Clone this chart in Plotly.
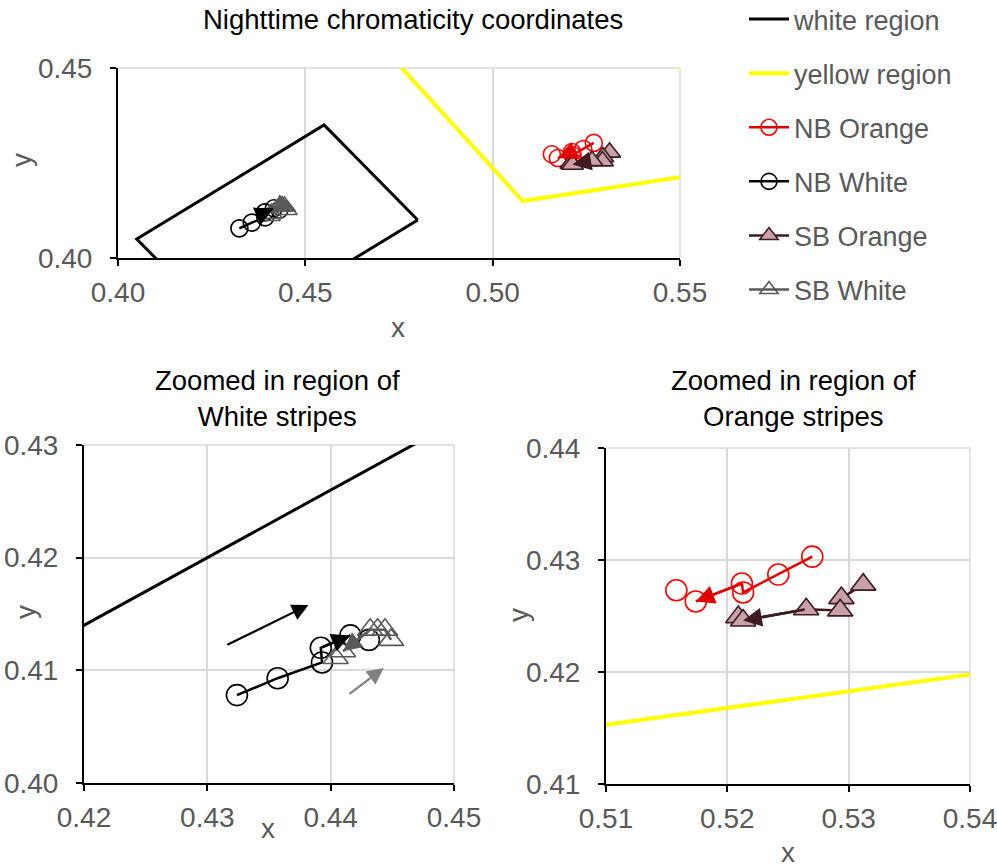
import plotly.graph_objects as go

# ASTM D6628 nighttime chromaticity boxes (closed polygons)
white_box_x = [0.480, 0.430, 0.405, 0.455, 0.480]
white_box_y = [0.410, 0.380, 0.405, 0.435, 0.410]
yellow_box_x = [0.575, 0.508, 0.473, 0.510, 0.575]
yellow_box_y = [0.425, 0.415, 0.453, 0.490, 0.425]

# Measured stripe chromaticity; None separates the stand-alone reading from the path
nb_orange_x = [0.5158, None, 0.5270, 0.5242, 0.5213, 0.5212, 0.5174]
nb_orange_y = [0.4273, None, 0.4303, 0.4287, 0.4271, 0.4279, 0.4263]
nb_white_x = [0.4431, None, 0.4324, 0.4357, 0.4393, 0.4392, 0.4416]
nb_white_y = [0.4127, None, 0.4078, 0.4093, 0.4107, 0.4120, 0.4131]
sb_orange_x = [0.5209, None, 0.5312, 0.5294, 0.5293, 0.5265, 0.5213]
sb_orange_y = [0.4249, None, 0.4278, 0.4266, 0.4255, 0.4256, 0.4246]
sb_white_x = [0.4404, None, 0.4449, 0.4444, 0.4438, 0.4432, 0.4410]
sb_white_y = [0.4111, None, 0.4127, 0.4136, 0.4136, 0.4136, 0.4117]

# Direction-of-change arrows in the white close-up: tail x, tail y, head x, head y
nb_white_trend = [0.4315, 0.4122, 0.4382, 0.4158]
sb_white_trend = [0.4414, 0.4078, 0.4443, 0.4102]

FONT = "Arial, Liberation Sans, sans-serif"
GREY_TXT = "#595959"
GRID = "#D9D9D9"
FS = 28
FS_LEG = 27
FS_TITLE = 27.5
W, H = 997, 867
EPS = 1e-7  # keeps the end tick of each axis inside its range

series = [
    dict(name="NB Orange", x=nb_orange_x, y=nb_orange_y, line="#E00000",
         symbol="circle-open", mcolor="#FF0000", mline=None),
    dict(name="NB White", x=nb_white_x, y=nb_white_y, line="#000000",
         symbol="circle-open", mcolor="#000000", mline=None),
    dict(name="SB Orange", x=sb_orange_x, y=sb_orange_y, line="#3F1A22",
         symbol="triangle-up", mcolor="#C9A2A8", mline="#3F1A22"),
    dict(name="SB White", x=sb_white_x, y=sb_white_y, line="#595959",
         symbol="triangle-up-open", mcolor="#595959", mline=None),
]

# panel: axis suffix, x range, y range, tick step, pixel box (left, top, right, bottom), marker sizes
panels = [
    dict(sfx="", xr=[0.40, 0.55], yr=[0.40, 0.45], dt=0.05,
         box=(118, 68, 680, 258), ms=17, ts=19),
    dict(sfx="2", xr=[0.42, 0.45], yr=[0.40, 0.43], dt=0.01,
         box=(84, 445, 454, 783), ms=21, ts=22),
    dict(sfx="3", xr=[0.51, 0.54], yr=[0.41, 0.44], dt=0.01,
         box=(606, 448, 970, 784), ms=21, ts=22),
]

fig = go.Figure()
annotations = []
shapes = []


def inside(px, py, p):
    return p["xr"][0] <= px <= p["xr"][1] and p["yr"][0] <= py <= p["yr"][1]


for i, p in enumerate(panels):
    xa, ya = "x" + p["sfx"], "y" + p["sfx"]
    first = i == 0
    fig.add_trace(go.Scatter(
        x=white_box_x, y=white_box_y, mode="lines", name="white region",
        line=dict(color="#000000", width=3), xaxis=xa, yaxis=ya,
        legendgroup="white region", showlegend=first))
    fig.add_trace(go.Scatter(
        x=yellow_box_x, y=yellow_box_y, mode="lines", name="yellow region",
        line=dict(color="#FFFF00", width=4), xaxis=xa, yaxis=ya,
        legendgroup="yellow region", showlegend=first))
    for s in series:
        size = p["ts"] if s["symbol"].startswith("triangle") else p["ms"]
        marker = dict(symbol=s["symbol"], size=size, color=s["mcolor"],
                      line=dict(width=1.6, color=s["mline"] or s["mcolor"]))
        fig.add_trace(go.Scatter(
            x=s["x"], y=s["y"], mode="lines+markers", name=s["name"],
            line=dict(color=s["line"], width=2.5), marker=marker,
            connectgaps=False, xaxis=xa, yaxis=ya,
            legendgroup=s["name"], showlegend=first))
        # arrowhead on the final segment of each path
        x0, y0, x1, y1 = s["x"][-2], s["y"][-2], s["x"][-1], s["y"][-1]
        if inside(x0, y0, p) and inside(x1, y1, p):
            annotations.append(dict(
                x=x1, y=y1, ax=x0, ay=y0, xref=xa, yref=ya, axref=xa, ayref=ya,
                text="", showarrow=True, arrowhead=2, arrowsize=1.5,
                arrowwidth=2.5, arrowcolor=s["line"]))

    l, t, r, b = p["box"]
    common = dict(
        showline=True, linecolor="#000000", linewidth=2, automargin=False,
        ticks="outside", ticklen=6, tickwidth=2, tickcolor="#000000",
        showgrid=True, gridcolor=GRID, gridwidth=1.5, zeroline=False,
        dtick=p["dt"], tickformat=".2f", ticklabeloverflow="allow",
        tickfont=dict(family=FONT, size=FS, color=GREY_TXT), fixedrange=True)
    fig.layout["xaxis" + p["sfx"]] = dict(
        common, range=[p["xr"][0], p["xr"][1] + EPS], tick0=p["xr"][0],
        anchor=ya, ticklabelstandoff=2, domain=[l / W, r / W])
    fig.layout["yaxis" + p["sfx"]] = dict(
        common, range=[p["yr"][0], p["yr"][1] + EPS], tick0=p["yr"][0],
        anchor=xa, ticklabelstandoff=12, domain=[1 - b / H, 1 - t / H])

    # top and right gridlines at the range ends (plotly skips edge gridlines)
    for (sx0, sy0, sx1, sy1) in [(0, 1, 1, 1), (1, 0, 1, 1)]:
        shapes.append(dict(
            type="line", xref=xa + " domain", yref=ya + " domain",
            x0=sx0, y0=sy0, x1=sx1, y1=sy1, layer="below",
            line=dict(color=GRID, width=1.5)))

# trend arrows beside the white close-up
for trend, col in [(nb_white_trend, "#000000"), (sb_white_trend, "#808080")]:
    annotations.append(dict(
        x=trend[2], y=trend[3], ax=trend[0], ay=trend[1],
        xref="x2", yref="y2", axref="x2", ayref="y2", text="",
        showarrow=True, arrowhead=2, arrowsize=1.5, arrowwidth=2.2,
        arrowcolor=col))


def txt(s, px, py, size=FS_TITLE, color="#000000", angle=0):
    annotations.append(dict(
        text=s, x=px / W, y=1 - py / H, xref="paper", yref="paper",
        showarrow=False, xanchor="center", yanchor="middle", textangle=angle,
        font=dict(family=FONT, size=size, color=color)))


# chart titles
txt("Nighttime chromaticity coordinates", 413, 19)
txt("Zoomed in region of<br>White stripes", 277, 398)
txt("Zoomed in region of<br>Orange stripes", 793, 398)
# axis titles
txt("x", 398, 328, size=FS, color=GREY_TXT)
txt("y", 22, 160, size=FS, color=GREY_TXT, angle=-90)
txt("x", 268, 828, size=FS, color=GREY_TXT)
txt("y", 25, 612, size=FS, color=GREY_TXT, angle=-90)
txt("x", 788, 852, size=FS, color=GREY_TXT)
txt("y", 518, 615, size=FS, color=GREY_TXT, angle=-90)

fig.update_layout(
    width=W, height=H, margin=dict(l=0, r=0, t=0, b=0, autoexpand=False),
    paper_bgcolor="white", plot_bgcolor="white",
    annotations=annotations, shapes=shapes,
    legend=dict(x=744 / W, y=1 + 5 / H, xanchor="left", yanchor="top",
                font=dict(family=FONT, size=FS_LEG, color=GREY_TXT),
                tracegroupgap=16, itemwidth=40, bgcolor="rgba(0,0,0,0)"),
)

fig.write_html("out.html")
